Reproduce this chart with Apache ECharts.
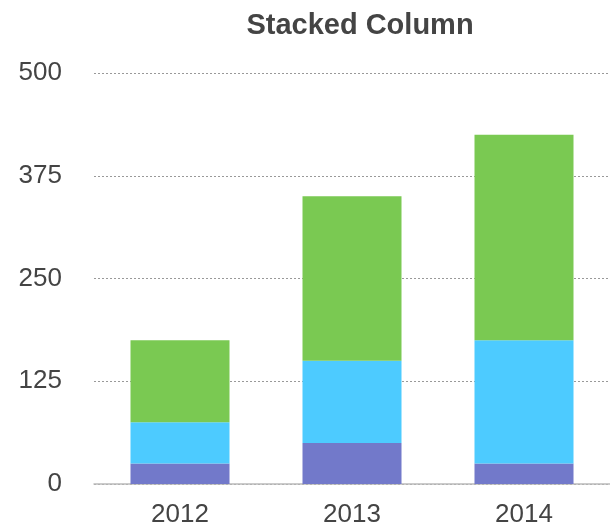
<!DOCTYPE html>
<html>
<head>
<meta charset="utf-8">
<script src="https://cdn.jsdelivr.net/npm/echarts@6/dist/echarts.min.js"></script>
<style>
  html, body { margin: 0; padding: 0; background: #fff; }
  #chart { width: 610px; height: 531px; }
</style>
</head>
<body>
<div id="chart"></div>
<script>
// data
var years = ['2012', '2013', '2014'];
var seriesA = [25, 50, 25];    // purple, bottom
var seriesB = [50, 100, 150];  // blue, middle
var seriesC = [100, 200, 250]; // green, top
var yTicks = [0, 125, 250, 375, 500];

var chart = echarts.init(document.getElementById('chart'));

function stackPart(name, data, color) {
  return {
    name: name,
    type: 'bar',
    stack: 'total',
    data: data,
    barWidth: 99,
    itemStyle: { color: color },
    emphasis: { disabled: true }
  };
}

chart.setOption({
  animation: false,
  textStyle: { fontFamily: 'Liberation Sans, Arial, sans-serif' },
  title: {
    text: 'Stacked Column',
    left: 355,
    top: 6,
    textAlign: 'center',
    textStyle: { fontSize: 29, fontWeight: 'bold', color: '#444' }
  },
  grid: { left: 94, width: 520, top: 73, bottom: 47, containLabel: false },
  xAxis: {
    type: 'category',
    data: years,
    axisLine: { lineStyle: { color: '#bbb', width: 1.5 } },
    axisTick: { show: false },
    axisLabel: { color: '#444', fontSize: 26, margin: 18 }
  },
  yAxis: {
    type: 'value',
    min: yTicks[0],
    max: yTicks[yTicks.length - 1],
    interval: 125,
    axisLine: { show: false },
    axisTick: { show: false },
    axisLabel: { color: '#444', fontSize: 26, margin: 32 },
    splitLine: { lineStyle: { color: '#999', type: [2, 2], width: 1 } }
  },
  series: [
    stackPart('A', seriesA, '#7279CA'),
    stackPart('B', seriesB, '#4DCBFF'),
    stackPart('C', seriesC, '#7AC952')
  ]
});
</script>
</body>
</html>
